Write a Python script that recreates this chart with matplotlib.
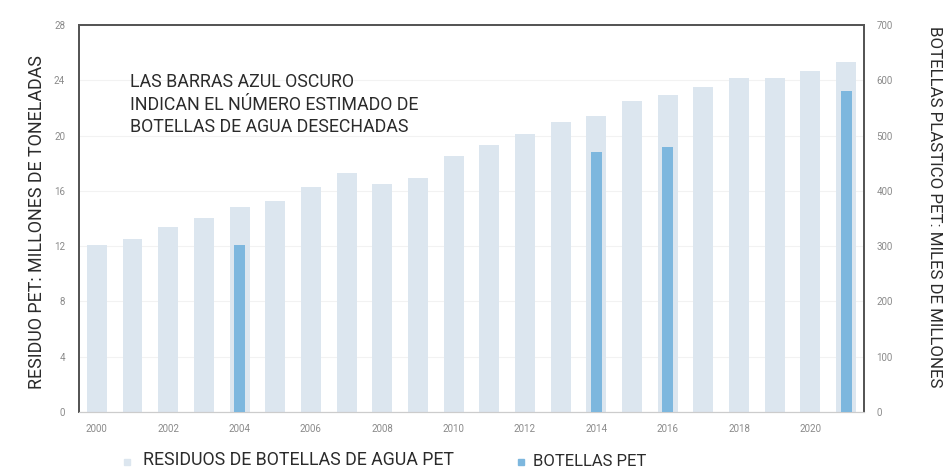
import matplotlib
matplotlib.use("Agg")
import matplotlib.pyplot as plt
from matplotlib.patches import Rectangle

years = list(range(2000, 2022))
residuo_mt = [12.1, 12.5, 13.4, 14.0, 14.8, 15.3, 16.3, 17.3, 16.5, 16.9,
              18.5, 19.3, 20.1, 21.0, 21.4, 22.5, 22.9, 23.5, 24.2, 24.2,
              24.7, 25.3]
botellas_years = [2004, 2014, 2016, 2021]
botellas_mm = [302, 470, 480, 580]

left_ticks = [0, 4, 8, 12, 16, 20, 24, 28]
right_ticks = [0, 100, 200, 300, 400, 500, 600, 700]
x_ticks = list(range(2000, 2021, 2))

light = "#dce6ef"
dark = "#7db7de"
tick_col = "#8a8a8a"
text_col = "#2b2b2b"

plt.rcParams["font.family"] = ["Roboto", "DejaVu Sans"]

fig = plt.figure(figsize=(9.48, 4.68), dpi=100)
ax = fig.add_axes([0.0833, 0.1197, 0.8281, 0.8269])
ax2 = ax.twinx()

ax.bar(years, residuo_mt, width=0.56, color=light, zorder=2)
ax2.bar(botellas_years, botellas_mm, width=0.3, color=dark, zorder=3)

ax.set_xlim(1999.5, 2021.5)
ax.set_ylim(0, 28)
ax2.set_ylim(0, 700)
ax.set_yticks(left_ticks)
ax2.set_yticks(right_ticks)
ax.set_xticks(x_ticks)
ax.grid(axis="y", color="#f2f2f2", linewidth=0.8, zorder=0)
ax.set_axisbelow(True)

for a in (ax, ax2):
    a.tick_params(length=0, labelsize=7, labelcolor=tick_col)
    for side in ("left", "top", "right"):
        a.spines[side].set_color("#555555")
        a.spines[side].set_linewidth(1.3)
    a.spines["bottom"].set_color("#cccccc")
    a.spines["bottom"].set_linewidth(0.8)
ax.tick_params(axis="y", pad=10)
ax2.tick_params(axis="y", pad=9)
ax.tick_params(axis="x", pad=9)

ax.set_ylabel("RESIDUO PET: MILLONES DE TONELADAS", fontsize=12.9,
              color=text_col)
ax.yaxis.set_label_coords(-0.042, 0.49)
ax2.set_ylabel("BOTELLAS PLASTICO PET: MILES DE MILLONES", fontsize=12.2,
               color=text_col, rotation=-90, va="center")
ax2.yaxis.set_label_coords(1.09, 0.53)

ax.text(0.065, 0.875,
        "LAS BARRAS AZUL OSCURO\nINDICAN EL NÚMERO ESTIMADO DE\nBOTELLAS DE AGUA DESECHADAS",
        transform=ax.transAxes, fontsize=12.8, color=text_col,
        va="top", ha="left", linespacing=1.3)

# legend
fig.add_artist(Rectangle((124 / 948, 1 - 465 / 468), 6 / 948, 6 / 468,
                         transform=fig.transFigure, color=light))
fig.text(143 / 948, 1 - 460 / 468, "RESIDUOS DE BOTELLAS DE AGUA PET",
         fontsize=12.8, color=text_col, va="center", ha="left")
fig.add_artist(Rectangle((518 / 948, 1 - 465 / 468), 6 / 948, 6 / 468,
                         transform=fig.transFigure, color=dark))
fig.text(533 / 948, 1 - 461 / 468, "BOTELLAS PET",
         fontsize=12, color=text_col, va="center", ha="left")

fig.savefig("out.png", dpi=100)
